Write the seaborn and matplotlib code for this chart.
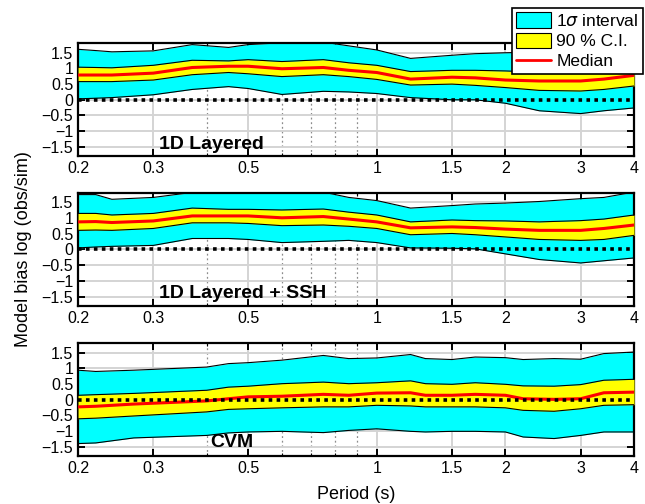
import matplotlib
matplotlib.use("Agg")
import matplotlib.pyplot as plt
import pandas as pd
import seaborn as sns
from matplotlib.patches import Patch
from matplotlib.lines import Line2D
from matplotlib.ticker import FixedLocator, NullFormatter

sns.set_theme(style="white")
plt.rcParams["font.family"] = ["Liberation Sans", "DejaVu Sans"]
plt.rcParams["axes.unicode_minus"] = True
plt.rcParams["text.color"] = "black"
plt.rcParams["axes.labelcolor"] = "black"
plt.rcParams["xtick.color"] = "black"
plt.rcParams["ytick.color"] = "black"

# ---- data -------------------------------------------------------------
periods_1d = [0.2, 0.22, 0.24, 0.3, 0.37, 0.45, 0.5, 0.6, 0.75, 0.86, 1.0,
              1.2, 1.5, 1.7, 2.0, 2.4, 3.0, 3.4, 4.0]

layered_sig_hi = [1.61, 1.57, 1.53, 1.56, 1.76, 1.67, 1.76, 1.82, 1.84, 1.72, 1.59,
                  1.32, 1.42, 1.47, 1.50, 1.52, 1.55, 1.58, 1.62]
layered_ci_hi = [1.04, 1.03, 1.02, 1.10, 1.26, 1.24, 1.28, 1.22, 1.28, 1.18, 1.10,
                 0.90, 0.94, 0.94, 0.92, 0.88, 0.86, 0.92, 1.05]
layered_med = [0.79, 0.79, 0.79, 0.85, 1.03, 1.07, 1.07, 0.99, 1.03, 0.94, 0.87,
               0.66, 0.72, 0.70, 0.63, 0.60, 0.60, 0.66, 0.78]
layered_ci_lo = [0.58, 0.58, 0.58, 0.63, 0.80, 0.87, 0.83, 0.74, 0.80, 0.74, 0.65,
                 0.47, 0.50, 0.46, 0.39, 0.30, 0.28, 0.33, 0.44]
layered_sig_lo = [0.03, 0.05, 0.07, 0.16, 0.33, 0.42, 0.36, 0.17, 0.27, 0.25, 0.20,
                  0.07, 0.00, 0.00, -0.11, -0.35, -0.44, -0.35, -0.26]

ssh_sig_hi = [1.75, 1.75, 1.60, 1.66, 1.82, 1.80, 1.82, 1.82, 1.83, 1.66, 1.56,
              1.32, 1.40, 1.45, 1.48, 1.53, 1.62, 1.66, 1.83]
ssh_ci_hi = [1.15, 1.15, 1.10, 1.15, 1.32, 1.28, 1.28, 1.26, 1.29, 1.19, 1.10,
             0.88, 0.94, 0.92, 0.91, 0.88, 0.92, 0.97, 1.10]
ssh_med = [0.88, 0.89, 0.86, 0.91, 1.07, 1.07, 1.07, 1.01, 1.05, 0.97, 0.88,
           0.69, 0.72, 0.70, 0.65, 0.61, 0.61, 0.67, 0.78]
ssh_ci_lo = [0.61, 0.62, 0.61, 0.67, 0.85, 0.85, 0.83, 0.76, 0.78, 0.74, 0.67,
             0.47, 0.51, 0.47, 0.40, 0.32, 0.29, 0.32, 0.45]
ssh_sig_lo = [0.05, 0.08, 0.10, 0.13, 0.35, 0.35, 0.32, 0.22, 0.26, 0.29, 0.22,
              0.05, 0.04, 0.02, -0.14, -0.32, -0.43, -0.36, -0.27]

periods_cvm = [0.2, 0.22, 0.27, 0.4, 0.45, 0.5, 0.6, 0.75, 0.86, 1.0, 1.2,
               1.3, 1.5, 1.7, 2.0, 2.2, 2.6, 3.0, 3.4, 4.0]
cvm_sig_hi = [0.94, 0.90, 0.94, 1.04, 1.15, 1.18, 1.26, 1.41, 1.31, 1.33, 1.44,
              1.31, 1.28, 1.36, 1.34, 1.28, 1.31, 1.29, 1.47, 1.52]
cvm_ci_hi = [0.14, 0.16, 0.20, 0.30, 0.40, 0.43, 0.51, 0.56, 0.51, 0.54, 0.60,
             0.51, 0.49, 0.54, 0.49, 0.44, 0.43, 0.48, 0.62, 0.65]
cvm_med = [-0.23, -0.21, -0.14, -0.04, 0.03, 0.09, 0.11, 0.17, 0.14, 0.21, 0.22,
           0.14, 0.14, 0.17, 0.14, 0.03, 0.01, 0.03, 0.22, 0.24]
cvm_ci_lo = [-0.61, -0.59, -0.52, -0.39, -0.31, -0.29, -0.26, -0.23, -0.23, -0.18, -0.20,
             -0.23, -0.23, -0.23, -0.26, -0.34, -0.37, -0.29, -0.18, -0.16]
cvm_sig_lo = [-1.40, -1.38, -1.22, -1.14, -1.06, -1.03, -1.01, -1.05, -0.98, -0.93, -1.01,
              -1.03, -1.01, -1.01, -1.03, -1.19, -1.24, -1.14, -1.03, -1.03]

model_names = ["1D Layered", "1D Layered + SSH", "CVM"]
name_pos = [(0.31, -1.44), (0.31, -1.40), (0.408, -1.35)]

x_ticks = [0.2, 0.3, 0.5, 1, 1.5, 2, 3, 4]
x_tick_labels = ["0.2", "0.3", "0.5", "1", "1.5", "2", "3", "4"]
x_minor = [0.4, 0.6, 0.7, 0.8, 0.9]
y_ticks = [-1.5, -1, -0.5, 0, 0.5, 1, 1.5]
y_tick_labels = ["\u22121.5", "\u22121", "\u22120.5", "0", "0.5", "1", "1.5"]

panels = [
    (periods_1d, layered_sig_lo, layered_ci_lo, layered_med, layered_ci_hi, layered_sig_hi),
    (periods_1d, ssh_sig_lo, ssh_ci_lo, ssh_med, ssh_ci_hi, ssh_sig_hi),
    (periods_cvm, cvm_sig_lo, cvm_ci_lo, cvm_med, cvm_ci_hi, cvm_sig_hi),
]

CYAN, YELLOW, RED = "#00ffff", "#ffff00", "#ff0000"

# ---- figure -----------------------------------------------------------
fig = plt.figure(figsize=(6.45, 5.04), dpi=100)
axes_pos = [(0.121, 0.690, 0.862, 0.224),
            (0.121, 0.393, 0.862, 0.224),
            (0.121, 0.095, 0.862, 0.224)]

for k, (pos, data) in enumerate(zip(axes_pos, panels)):
    per, s_lo, c_lo, med, c_hi, s_hi = data
    df = pd.DataFrame({"period": per, "median": med})
    ax = fig.add_axes(pos)
    ax.set_xscale("log")

    ax.fill_between(per, s_lo, s_hi, color=CYAN, lw=0, zorder=1)
    ax.plot(per, s_lo, color="black", lw=0.8, zorder=2)
    ax.plot(per, s_hi, color="black", lw=0.8, zorder=2)
    ax.fill_between(per, c_lo, c_hi, color=YELLOW, lw=0, zorder=3)
    ax.plot(per, c_lo, color="black", lw=0.8, zorder=4)
    ax.plot(per, c_hi, color="black", lw=0.8, zorder=4)
    sns.lineplot(data=df, x="period", y="median", color=RED, lw=2.2,
                 sort=False, ax=ax, zorder=5)
    ax.axhline(0, color="black", lw=2.6, dashes=(1, 1.2),
               dash_capstyle="butt", zorder=6)

    ax.set_xlim(0.2, 4)
    ax.set_ylim(-1.8, 1.8)
    ax.xaxis.set_major_locator(FixedLocator(x_ticks))
    ax.set_xticklabels(x_tick_labels)
    ax.xaxis.set_minor_locator(FixedLocator(x_minor))
    ax.xaxis.set_minor_formatter(NullFormatter())
    ax.set_yticks(y_ticks)
    ax.set_yticklabels(y_tick_labels)
    ax.set_xlabel("")
    ax.set_ylabel("")

    ax.set_axisbelow(True)
    ax.grid(True, which="major", color="#d4d4d4", lw=1.4, ls="-")
    ax.grid(True, which="minor", axis="x", color="#8c8c8c", lw=0.9,
            ls=(0, (1.5, 2.2)))
    ax.tick_params(which="major", direction="in", length=5, width=1.4,
                   top=True, right=True, bottom=True, left=True,
                   labelsize=11.5, pad=3.5, colors="black")
    ax.tick_params(which="minor", direction="in", length=2.5, width=0.8,
                   top=True, bottom=True)
    for sp in ax.spines.values():
        sp.set_visible(True)
        sp.set_color("black")
        sp.set_linewidth(1.6)

    tx, ty = name_pos[k]
    ax.text(tx, ty, model_names[k], fontsize=14, fontweight="bold",
            color="black", ha="left", va="center", zorder=7)

    if k == 2:
        ax.set_xlabel("Period (s)", fontsize=13, labelpad=7, color="black")

fig.text(0.037, 0.505, "Model bias log (obs/sim)", rotation=90,
         ha="center", va="center", fontsize=13, color="black")

handles = [Patch(facecolor=CYAN, edgecolor="black", lw=0.8),
           Patch(facecolor=YELLOW, edgecolor="black", lw=0.8),
           Line2D([0], [0], color=RED, lw=2)]
labels = [r"1$\sigma$ interval", "90 % C.I.", "Median"]
leg = fig.legend(handles, labels, loc="upper right",
                 bbox_to_anchor=(0.997, 0.984), fontsize=12.5,
                 frameon=True, fancybox=False, framealpha=1,
                 edgecolor="black", borderpad=0.25, labelspacing=0.2,
                 handlelength=2.0, handleheight=1.0, handletextpad=0.3,
                 borderaxespad=0)
leg.get_frame().set_linewidth(1.2)
for t in leg.get_texts():
    t.set_color("black")

fig.savefig("out.png", dpi=100)
